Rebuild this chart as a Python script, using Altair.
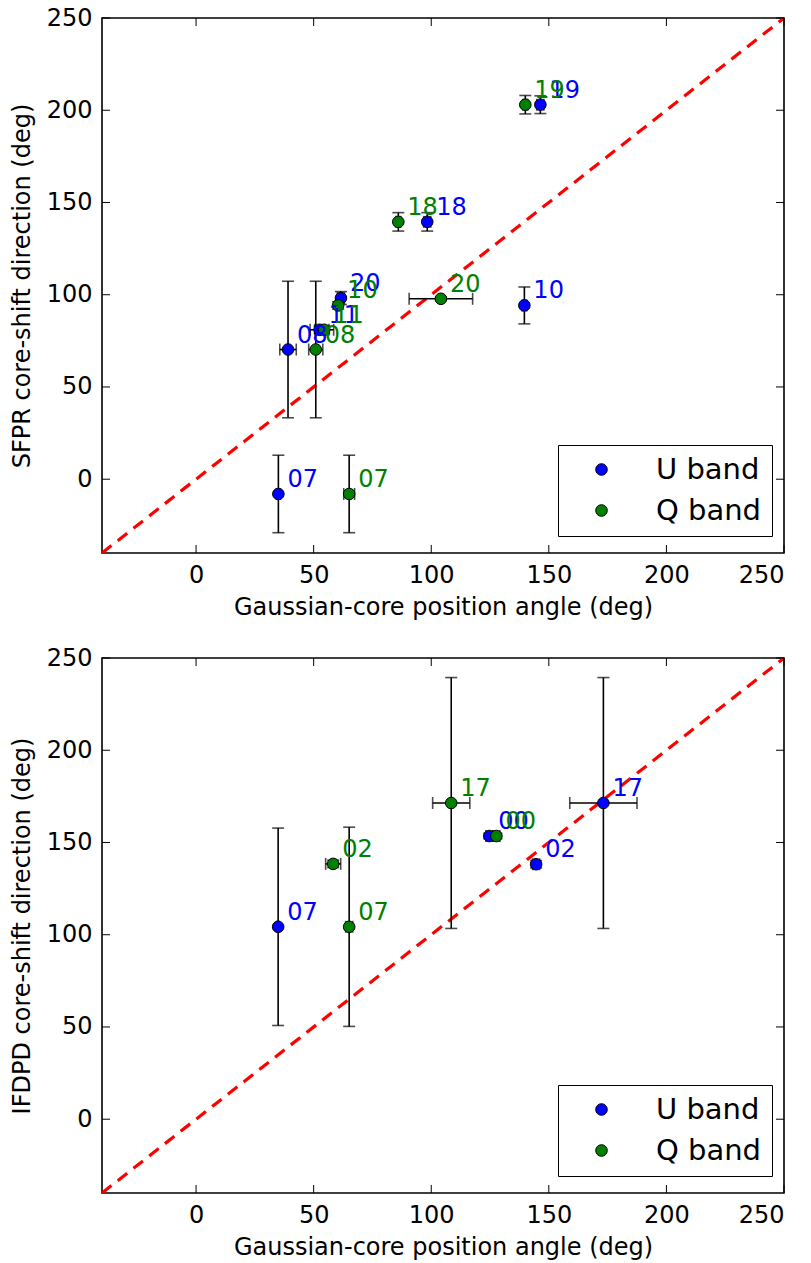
import altair as alt
import pandas as pd

# ---------------- data ----------------
bands = ["U band", "Q band"]
band_colors = ["#0000ff", "#008000"]
tick_values = [0, 50, 100, 150, 200, 250]
axis_min, axis_max = -40, 250
diag = [axis_min, axis_max]

# top panel (SFPR)
top_u_labels = ["07", "08", "11", "20", "10", "18", "19"]
top_u_x = [35.0, 39.1, 52.5, 61.6, 139.6, 98.3, 146.4]
top_u_y = [-8.0, 70.3, 81.0, 98.2, 94.2, 139.5, 203.0]
top_u_xerr = [0.8, 3.5, 4.0, 1.5, 1.0, 1.5, 1.5]
top_u_yerr = [21.0, 37.0, 2.0, 3.5, 10.0, 5.0, 4.8]

top_q_labels = ["07", "08", "11", "20", "10", "18", "19"]
top_q_x = [65.1, 50.9, 54.5, 104.1, 60.4, 86.0, 140.0]
top_q_y = [-8.0, 70.3, 81.0, 97.8, 94.2, 139.5, 203.0]
top_q_xerr = [2.3, 3.0, 4.0, 13.5, 1.0, 1.0, 1.0]
top_q_yerr = [21.0, 37.0, 2.0, 1.0, 2.0, 5.0, 5.0]

# bottom panel (IFDPD)
bot_u_labels = ["07", "00", "02", "17"]
bot_u_x = [34.9, 124.7, 144.6, 173.2]
bot_u_y = [104.3, 153.5, 138.2, 171.4]
bot_u_xerr = [0.5, 1.5, 1.5, 14.3]
bot_u_yerr = [53.5, 1.5, 2.0, 68.0]

bot_q_labels = ["07", "00", "02", "17"]
bot_q_x = [65.1, 127.7, 58.3, 108.5]
bot_q_y = [104.3, 153.5, 138.4, 171.4]
bot_q_xerr = [1.5, 1.5, 3.2, 7.9]
bot_q_yerr = [54.0, 1.5, 2.0, 68.0]

FONT = "DejaVu Sans"
W, H = 682, 535
TICK = 8


def build_df(lu, xu, yu, xeu, yeu, lq, xq, yq, xeq, yeq):
    rows = []
    for lab, x, y, xe, ye in zip(lu, xu, yu, xeu, yeu):
        rows.append(dict(band="U band", label=lab, x=x, y=y, xlo=x - xe, xhi=x + xe, ylo=y - ye, yhi=y + ye, order=0))
    for lab, x, y, xe, ye in zip(lq, xq, yq, xeq, yeq):
        rows.append(dict(band="Q band", label=lab, x=x, y=y, xlo=x - xe, xhi=x + xe, ylo=y - ye, yhi=y + ye, order=1))
    return pd.DataFrame(rows)


def panel(df, ytitle):
    xs = alt.Scale(domain=[axis_min, axis_max], nice=False, zero=False)
    ys = alt.Scale(domain=[axis_min, axis_max], nice=False, zero=False)
    xax = alt.Axis(values=tick_values, title="Gaussian-core position angle (deg)", ticks=False,
                   domain=False, grid=False, labelPadding=10, titlePadding=8)
    yax = alt.Axis(values=tick_values, title=ytitle, ticks=False, domain=False, grid=False,
                   labelPadding=10, titlePadding=12)
    cscale = alt.Scale(domain=bands, range=band_colors)

    base = alt.Chart(df)

    diag_df = pd.DataFrame({"x": diag, "y": diag})
    diag_line = alt.Chart(diag_df).mark_line(color="red", strokeWidth=3.2, strokeDash=[12, 8], clip=True).encode(
        x=alt.X("x:Q", scale=xs, axis=xax), y=alt.Y("y:Q", scale=ys, axis=yax))

    yerr = base.mark_rule(color="black", strokeWidth=1.6).encode(
        x="x:Q", y="ylo:Q", y2="yhi:Q")
    xerr = base.mark_rule(color="black", strokeWidth=1.6).encode(
        y="y:Q", x="xlo:Q", x2="xhi:Q")
    ycap_lo = base.mark_tick(color="black", orient="horizontal", size=12, thickness=1.6).encode(x="x:Q", y="ylo:Q")
    ycap_hi = base.mark_tick(color="black", orient="horizontal", size=12, thickness=1.6).encode(x="x:Q", y="yhi:Q")
    xcap_lo = base.mark_tick(color="black", orient="vertical", size=12, thickness=1.6).encode(x="xlo:Q", y="y:Q")
    xcap_hi = base.mark_tick(color="black", orient="vertical", size=12, thickness=1.6).encode(x="xhi:Q", y="y:Q")

    pts = base.mark_point(filled=True, size=135, stroke="black", strokeWidth=1, opacity=1).encode(
        x="x:Q", y="y:Q",
        color=alt.Color("band:N", scale=cscale, sort=bands,
                        legend=alt.Legend(title=None, orient="none", legendX=456, legendY=427,
                                          strokeColor="black", fillColor="white", padding=10,
                                          symbolType="circle", symbolSize=135, symbolStrokeColor="black",
                                          symbolStrokeWidth=1, symbolOffset=19, labelOffset=40,
                                          labelFont=FONT, labelFontSize=29, labelColor="black",
                                          rowPadding=11, cornerRadius=0)),
        order="order:Q")
    texts = base.mark_text(align="left", baseline="alphabetic", dx=9, dy=-7, fontSize=24, font=FONT).encode(
        x="x:Q", y="y:Q", text="label:N",
        color=alt.Color("band:N", scale=cscale, legend=None), order="order:Q")

    tdf = pd.DataFrame({"t": tick_values})
    tb = alt.Chart(tdf)
    bt = tb.mark_rule(color="black", strokeWidth=1).encode(x="t:Q", y=alt.value(H), y2=alt.value(H - TICK))
    tt = tb.mark_rule(color="black", strokeWidth=1).encode(x="t:Q", y=alt.value(0), y2=alt.value(TICK))
    lt = tb.mark_rule(color="black", strokeWidth=1).encode(y="t:Q", x=alt.value(0), x2=alt.value(TICK))
    rt = tb.mark_rule(color="black", strokeWidth=1).encode(y="t:Q", x=alt.value(W), x2=alt.value(W - TICK))

    return alt.layer(diag_line, yerr, xerr, ycap_lo, ycap_hi, xcap_lo, xcap_hi, pts, texts, bt, tt, lt, rt).properties(
        width=W, height=H)


top_df = build_df(top_u_labels, top_u_x, top_u_y, top_u_xerr, top_u_yerr,
                  top_q_labels, top_q_x, top_q_y, top_q_xerr, top_q_yerr)
bot_df = build_df(bot_u_labels, bot_u_x, bot_u_y, bot_u_xerr, bot_u_yerr,
                  bot_q_labels, bot_q_x, bot_q_y, bot_q_xerr, bot_q_yerr)

top = panel(top_df, "SFPR core-shift direction (deg)")
bot = panel(bot_df, "IFDPD core-shift direction (deg)")

chart = alt.vconcat(top, bot, spacing=25).resolve_scale(color="independent").resolve_legend(
    color="independent").properties(
    padding={"left": 9, "top": 5, "right": 5, "bottom": 5}, background="white"
).configure_view(stroke="black", strokeWidth=1.6).configure_axis(
    labelFont=FONT, titleFont=FONT, labelFontSize=24, titleFontSize=24, titleFontWeight="normal",
    labelColor="black", titleColor="black")

chart.save("out.html", embed_options={"renderer": "svg", "actions": False})
